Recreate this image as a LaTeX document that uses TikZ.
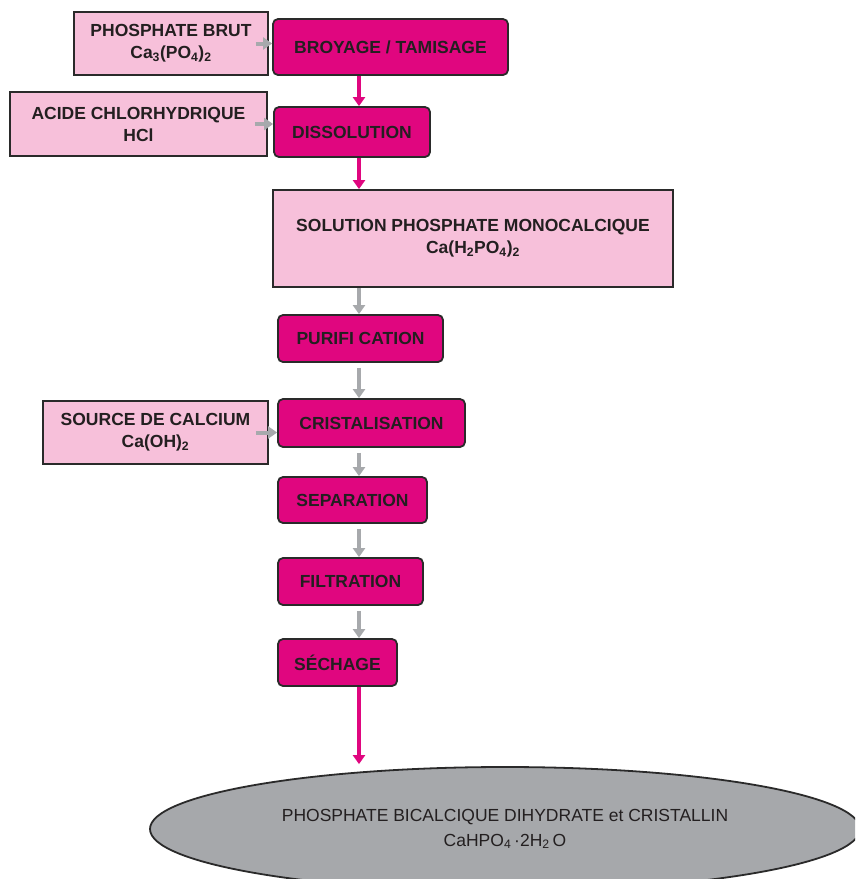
\documentclass[tikz,border=0pt]{standalone}
\usepackage{fontspec}
\setmainfont{Liberation Sans}
\usetikzlibrary{arrows.meta,shapes.geometric}
\definecolor{mag}{HTML}{E0067F}
\definecolor{lpink}{HTML}{F7C0DA}
\definecolor{agray}{HTML}{A7A9AC}
\definecolor{egray}{HTML}{A6A8AB}
\definecolor{edgec}{HTML}{2A2A2A}
\definecolor{txt}{HTML}{231F20}
\begin{document}
\begin{tikzpicture}[x=1pt,y=-1pt,
  stepbox/.style={draw=edgec, line width=1.8pt, fill=mag, rounded corners=5pt, inner sep=0pt, text=txt, font=\fontsize{17.5}{22}\selectfont\bfseries, align=center},
  inbox/.style={draw=edgec, line width=1.8pt, fill=lpink, inner sep=0pt, text=txt, font=\fontsize{17.5}{22}\selectfont\bfseries, align=center},
  garrow/.style={draw=agray, line width=4pt, -{Triangle[length=9pt,width=12pt]}},
  marrow/.style={draw=mag, line width=3.5pt, -{Triangle[length=9pt,width=12pt]}},
]
\useasboundingbox (0,0) rectangle (855,879);
\clip (0,0) rectangle (855,879);
\fill[white] (0,0) rectangle (855,879);
\coordinate (axis) at (359,0);
% input boxes
\node[inbox, minimum width=194pt, minimum height=63pt] (brut) at (171,43.5) {PHOSPHATE BRUT\\Ca\textsubscript{3}(PO\textsubscript{4})\textsubscript{2}};
\node[inbox, minimum width=257pt, minimum height=64pt] (acide) at (138.5,124) {ACIDE CHLORHYDRIQUE\\HCl};
\node[inbox, minimum width=225pt, minimum height=63pt] (source) at (155.5,432.5) {SOURCE DE CALCIUM\\Ca(OH)\textsubscript{2}};
% process steps
\node[stepbox, minimum width=235pt, minimum height=56pt] (broy) at (390.5,47) {BROYAGE / TAMISAGE};
\node[stepbox, minimum width=156pt, minimum height=50pt] (diss) at (352,132) {DISSOLUTION};
\node[inbox, minimum width=400pt, minimum height=97pt] (sol) at (473,238.5) {SOLUTION PHOSPHATE MONOCALCIQUE\\Ca(H\textsubscript{2}PO\textsubscript{4})\textsubscript{2}};
\node[stepbox, minimum width=165pt, minimum height=47pt] (puri) at (360.5,338.5) {PURIFI CATION};
\node[stepbox, minimum width=187pt, minimum height=48pt] (cris) at (371.5,423) {CRISTALISATION};
\node[stepbox, minimum width=149pt, minimum height=46pt] (sep) at (352.5,500) {SEPARATION};
\node[stepbox, minimum width=145pt, minimum height=47pt] (filt) at (350.5,581.5) {FILTRATION};
\node[stepbox, minimum width=119pt, minimum height=47pt] (sech) at (337.5,662.5) {SÉCHAGE};
\node[ellipse, draw=edgec, fill=egray, line width=1.8pt, minimum width=710pt, minimum height=124pt, inner sep=0pt, text=txt, align=center, font=\fontsize{17.5}{25}\selectfont] (prod) at (505,829) {PHOSPHATE BICALCIQUE DIHYDRATE et CRISTALLIN\\CaHPO\textsubscript{4}\,·2H\textsubscript{2}\,O};
% side inputs
\draw[garrow] ([xshift=-13pt]brut.east) -- (broy.west |- brut.east);
\draw[garrow] ([xshift=-13pt]acide.east) -- (diss.west |- acide.east);
\draw[garrow] ([xshift=-13pt]source.east) -- (cris.west |- source.east);
% main flow
\draw[marrow] (broy.south -| axis) -- (diss.north -| axis);
\draw[marrow] (diss.south -| axis) -- (sol.north -| axis);
\draw[garrow] (sol.south -| axis) -- (puri.north -| axis);
\draw[garrow, shorten <=5pt] (puri.south -| axis) -- (cris.north -| axis);
\draw[garrow, shorten <=5pt] (cris.south -| axis) -- (sep.north -| axis);
\draw[garrow, shorten <=5pt] (sep.south -| axis) -- (filt.north -| axis);
\draw[garrow, shorten <=5pt] (filt.south -| axis) -- (sech.north -| axis);
\draw[marrow] (sech.south -| axis) -- ([yshift=2pt]prod.north -| axis);
\end{tikzpicture}
\end{document}
